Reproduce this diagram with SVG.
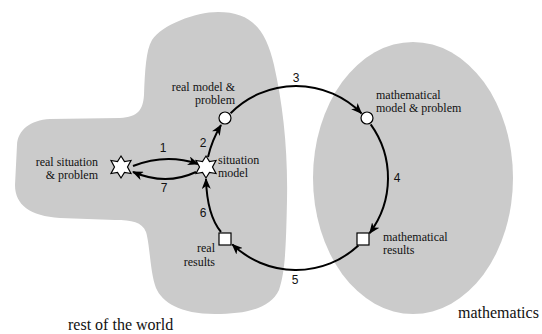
<svg xmlns="http://www.w3.org/2000/svg" width="542" height="334" viewBox="0 0 542 334">
<style>
.region{fill:#cbcbcb;stroke:none}
.lbl{font-family:"Liberation Serif","Times New Roman",serif;font-size:12px;fill:#111}
.big{font-family:"Liberation Serif","Times New Roman",serif;font-size:16px;fill:#111}
.num{font-family:"Liberation Sans",Arial,sans-serif;font-size:12px;fill:#111;text-anchor:middle}
.edge{fill:none;stroke:#000;stroke-width:2;marker-end:url(#ah)}
.node{fill:#fff;stroke:#000;stroke-width:1.2}
.end{text-anchor:end}
</style>
<defs>
<marker id="ah" markerUnits="userSpaceOnUse" markerWidth="11" markerHeight="9" refX="10" refY="4.5" orient="auto">
<path d="M0,0 L11,4.5 L0,9 L3,4.5 Z" fill="#000"/>
</marker>
</defs>
<rect width="542" height="334" fill="#fff"/>
<g id="rest-of-world">
<path class="region" d="M218,12 C252,12 266,30 274,65 C283,105 288,150 287,200 C286,250 285,272 279,290 C270,309 245,314 215,314 C180,314 162,302 156,288 C150,272 150,245 146,232 C142,222 132,220 115,220 L60,218 C30,216 15,205 15,185 L17,145 C18,130 30,120 50,119 L120,118 C138,117 143,110 144,95 C145,70 146,50 152,40 C162,25 195,12 218,12 Z"/>
<text class="big" x="68" y="330">rest of the world</text>
</g>
<g id="mathematics">
<ellipse class="region" cx="413" cy="178" rx="100" ry="136"/>
<text class="big" x="458" y="318">mathematics</text>
</g>
<g id="connectors">
<path class="edge" d="M133,166 Q166,153 198,164"/>
<path class="edge" d="M196,172 Q166,186 133,172"/>
<path class="edge" d="M208,157 Q212,140 221,125"/>
<path class="edge" d="M230.6,113.3 A92,92 0 0 1 361.4,113.3"/>
<path class="edge" d="M370.7,124.3 A92,92 0 0 1 369.7,233.1"/>
<path class="edge" d="M358.4,245.6 A92,92 0 0 1 232.3,244.4"/>
<path class="edge" d="M221,232 Q207,215 206,179"/>
<text class="num" x="163" y="152">1</text>
<text class="num" x="164" y="192">7</text>
<text class="num" x="203" y="147">2</text>
<text class="num" x="296" y="82">3</text>
<text class="num" x="397" y="182">4</text>
<text class="num" x="295" y="284">5</text>
<text class="num" x="203" y="217">6</text>
</g>
<g id="real-situation">
<polygon class="node" points="121,156 124.5,161.5 131,160.5 127.5,167 131,173.5 124.5,172.5 121,178 117.5,172.5 111,173.5 114.5,167 111,160.5 117.5,161.5"/>
<text class="lbl end" x="98" y="166">real situation</text>
<text class="lbl end" x="98" y="179">&amp; problem</text>
</g>
<g id="situation-model">
<polygon class="node" points="206,156 209.5,161.5 216,160.5 212.5,167 216,173.5 209.5,172.5 206,178 202.5,172.5 196,173.5 199.5,167 196,160.5 202.5,161.5"/>
<text class="lbl" x="218" y="164">situation</text>
<text class="lbl" x="218" y="177">model</text>
</g>
<g id="real-model">
<circle class="node" cx="225" cy="118" r="6"/>
<text class="lbl end" x="235" y="91">real model &amp;</text>
<text class="lbl end" x="235" y="104">problem</text>
</g>
<g id="math-model">
<circle class="node" cx="367" cy="118" r="6"/>
<text class="lbl" x="376" y="99">mathematical</text>
<text class="lbl" x="376" y="112">model &amp; problem</text>
</g>
<g id="math-results">
<rect class="node" x="357" y="233" width="12" height="12"/>
<text class="lbl" x="383" y="241">mathematical</text>
<text class="lbl" x="383" y="254">results</text>
</g>
<g id="real-results">
<rect class="node" x="219" y="233" width="12" height="12"/>
<text class="lbl end" x="215" y="252">real</text>
<text class="lbl end" x="215" y="266">results</text>
</g>
</svg>
